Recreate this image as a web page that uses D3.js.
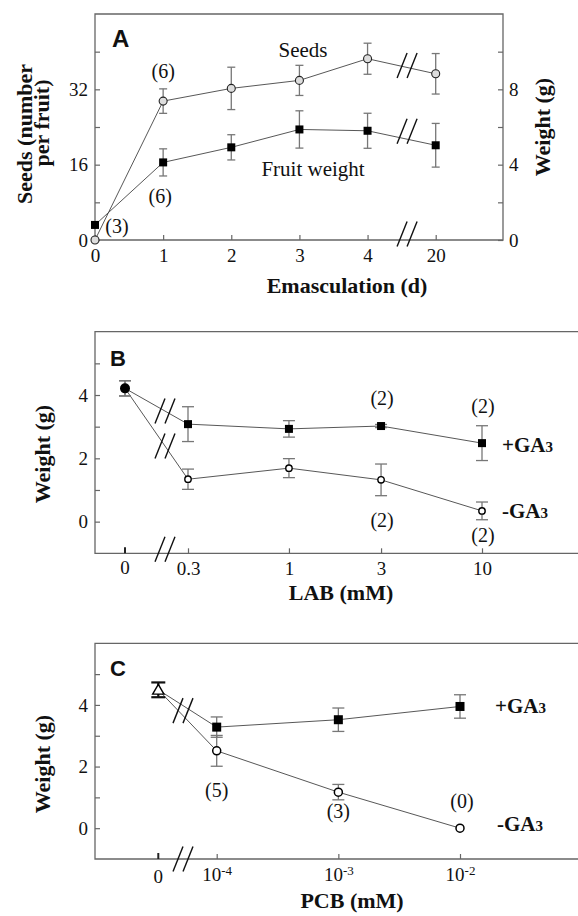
<!DOCTYPE html>
<html>
<head>
<meta charset="utf-8">
<script src="https://cdn.jsdelivr.net/npm/d3@7"></script>
<style>
  body { margin: 0; background: #fff; }
  text { font-family: "Liberation Serif", "Times New Roman", serif; fill: #111; }
  .panel { font-family: "Liberation Sans", Arial, sans-serif; font-weight: bold; }
  .lab { font-weight: bold; }
</style>
</head>
<body>
<div id="fig"></div>
<script>
// ---- data: panel A (emasculation)
var days = ["0", "1", "2", "3", "4", "20"];
var seeds = [0, 29.5, 32.2, 33.9, 38.5, 35.3];
var seedsErr = [0, 2.6, 4.5, 3.2, 3.3, 4.3];
var fruitWt = [0.8, 4.12, 4.92, 5.87, 5.8, 5.03];
var fruitErr = [0, 0.72, 0.67, 0.99, 0.93, 1.16];

// ---- data: panel B (LAB)
var labConc = [0, 0.3, 1, 3, 10];
var labPlus = [4.21, 3.08, 2.93, 3.02, 2.48];
var labPlusErr = [0.24, 0.55, 0.26, 0.05, 0.55];
var labMinus = [4.21, 1.34, 1.69, 1.32, 0.34];
var labMinusErr = [0.24, 0.32, 0.30, 0.50, 0.28];

// ---- data: panel C (PCB)
var pcbConc = [0, 1e-4, 1e-3, 1e-2];
var pcbPlus = [4.49, 3.28, 3.52, 3.95];
var pcbPlusErr = [0.24, 0.33, 0.38, 0.38];
var pcbMinus = [4.49, 2.51, 1.17, 0.0];
var pcbMinusErr = [0.24, 0.50, 0.25, 0];

var weightTicks = [0, 1, 2, 3, 4, 5];

var axisColor = "#666";
var lineColor = "#444";
var errColor = "#777";

var svg = d3.select("#fig").append("svg")
  .attr("width", 578)
  .attr("height", 916);

function breakMark(g, cx, cy) {
  [-10, 0].forEach(function(dx) {
    g.append("line")
      .attr("x1", cx + dx).attr("y1", cy + 12.5)
      .attr("x2", cx + dx + 10).attr("y2", cy - 12.5)
      .attr("stroke", "#111").attr("stroke-width", 1.4);
  });
}

function errorBars(g, xs, ys, errs, y, capW, color, width) {
  xs.forEach(function(xv, i) {
    if (!errs[i]) return;
    var lo = y(ys[i] - errs[i]), hi = y(ys[i] + errs[i]);
    g.append("line").attr("x1", xv).attr("x2", xv).attr("y1", lo).attr("y2", hi)
      .attr("stroke", color).attr("stroke-width", width);
    [lo, hi].forEach(function(yy) {
      g.append("line").attr("x1", xv - capW / 2).attr("x2", xv + capW / 2)
        .attr("y1", yy).attr("y2", yy)
        .attr("stroke", color).attr("stroke-width", width);
    });
  });
}

function gaLabel(g, x, y, sign) {
  var t = g.append("text").attr("class", "lab").attr("x", x).attr("y", y)
    .attr("font-size", "21px").text(sign + "GA");
  t.append("tspan").attr("font-size", "15px").text("3");
}

function styleAxis(ax) {
  ax.attr("font-family", null).attr("font-size", null);
  ax.select(".domain").remove();
  ax.selectAll(".tick line").attr("stroke", axisColor).attr("stroke-width", 1.2);
  ax.selectAll(".tick text").attr("font-size", "19px").attr("fill", "#111");
}

function lerp(a, b, t) { return a + (b - a) * t; }

// =================== Panel A
var gA = svg.append("g");
var A = { left: 95, right: 503, top: 14, bottom: 240 };

var xA = d3.scalePoint().domain(days).range([95, 435.7]);
var yA = d3.scaleLinear().domain([0, 48]).range([A.bottom, A.top]);
var yA2 = d3.scaleLinear().domain([0, 12]).range([A.bottom, A.top]);

gA.append("path")
  .attr("d", `M${A.left},${A.top}H${A.right}V${A.bottom}H${A.left}Z`)
  .attr("fill", "none").attr("stroke", axisColor).attr("stroke-width", 1.3);

var axA = gA.append("g").attr("transform", `translate(${A.left},0)`)
  .call(d3.axisLeft(yA).tickValues([0, 8, 16, 24, 32, 40]).tickSize(-5).tickPadding(7)
    .tickFormat(d => d % 16 === 0 ? d : ""));
styleAxis(axA);

var axA2 = gA.append("g").attr("transform", `translate(${A.right},0)`)
  .call(d3.axisRight(yA2).tickValues([0, 2, 4, 6, 8, 10]).tickSize(-5).tickPadding(6)
    .tickFormat(d => d % 4 === 0 ? d : ""));
styleAxis(axA2);

var axAx = gA.append("g").attr("transform", `translate(0,${A.bottom})`)
  .call(d3.axisBottom(xA).tickSize(-5).tickPadding(9));
styleAxis(axAx);

var xsA = days.map(d => xA(d));
var breakXA = xA("4") + 0.58 * (xA("20") - xA("4"));

// seeds line + fruit line
gA.append("path").datum(seeds)
  .attr("d", d3.line().x((d, i) => xsA[i]).y(d => yA(d)))
  .attr("fill", "none").attr("stroke", lineColor).attr("stroke-width", 0.9);
gA.append("path").datum(fruitWt)
  .attr("d", d3.line().x((d, i) => xsA[i]).y(d => yA2(d)))
  .attr("fill", "none").attr("stroke", lineColor).attr("stroke-width", 0.9);

errorBars(gA, xsA, seeds, seedsErr, yA, 8, errColor, 1.3);
errorBars(gA, xsA, fruitWt, fruitErr, yA2, 8, errColor, 1.3);

gA.selectAll(".fr").data(fruitWt).enter().append("rect")
  .attr("x", (d, i) => xsA[i] - 4).attr("y", d => yA2(d) - 4)
  .attr("width", 8).attr("height", 8).attr("fill", "#000");
gA.selectAll(".sd").data(seeds).enter().append("circle")
  .attr("cx", (d, i) => xsA[i]).attr("cy", d => yA(d)).attr("r", 4)
  .attr("fill", "#ddd").attr("stroke", "#222").attr("stroke-width", 1.1);

// break marks
var tA = (breakXA - xA("4")) / (xA("20") - xA("4"));
breakMark(gA, breakXA, lerp(yA(seeds[4]), yA(seeds[5]), tA) - 2);
breakMark(gA, breakXA, lerp(yA2(fruitWt[4]), yA2(fruitWt[5]), tA) - 8);
breakMark(gA, breakXA, A.bottom - 6);

gA.append("text").attr("class", "panel").attr("x", 112).attr("y", 47)
  .attr("font-size", "24px").text("A");
gA.append("text").attr("x", 303).attr("y", 57).attr("text-anchor", "middle")
  .attr("font-size", "21px").text("Seeds");
gA.append("text").attr("x", 313).attr("y", 176).attr("text-anchor", "middle")
  .attr("font-size", "21px").text("Fruit weight");
gA.append("text").attr("x", xA("1")).attr("y", 78).attr("text-anchor", "middle")
  .attr("font-size", "20px").text("(6)");
gA.append("text").attr("x", xA("1") - 3).attr("y", 203).attr("text-anchor", "middle")
  .attr("font-size", "20px").text("(6)");
gA.append("text").attr("x", 117).attr("y", 233).attr("text-anchor", "middle")
  .attr("font-size", "20px").text("(3)");

gA.append("text").attr("class", "lab").attr("font-size", "22px")
  .attr("text-anchor", "middle")
  .attr("transform", "translate(32,134) rotate(-90)").text("Seeds (number");
gA.append("text").attr("class", "lab").attr("font-size", "22px")
  .attr("text-anchor", "middle")
  .attr("transform", "translate(49,123) rotate(-90)").text("per fruit)");
gA.append("text").attr("class", "lab").attr("font-size", "22px")
  .attr("text-anchor", "middle")
  .attr("transform", "translate(550,127) rotate(-90)").text("Weight (g)");
gA.append("text").attr("class", "lab").attr("font-size", "22px")
  .attr("text-anchor", "middle").attr("x", 347).attr("y", 293).text("Emasculation (d)");

// =================== Panel B
var gB = svg.append("g");
var B = { left: 95, right: 578, top: 331.7, bottom: 553.3 };
var zeroB = 125;
var logB = d3.scaleLog().domain([0.3, 10]).range([188, 482]);
var xB = function(v) { return v === 0 ? zeroB : logB(v); };
var yB = d3.scaleLinear().domain([-1, 6]).range([B.bottom, B.top]);

gB.append("path")
  .attr("d", `M${B.right},${B.top}H${B.left}V${B.bottom}H${B.right}`)
  .attr("fill", "none").attr("stroke", axisColor).attr("stroke-width", 1.3);

var axB = gB.append("g").attr("transform", `translate(${B.left},0)`)
  .call(d3.axisLeft(yB).tickValues(weightTicks).tickSize(-5).tickPadding(7)
    .tickFormat(d => d % 2 === 0 ? d : ""));
styleAxis(axB);

var axBx = gB.append("g").attr("transform", `translate(0,${B.bottom})`)
  .call(d3.axisBottom(logB).tickValues([0.3, 1, 3, 10]).tickSize(-5).tickPadding(8)
    .tickFormat(d => String(d)));
styleAxis(axBx);
gB.append("line").attr("x1", zeroB).attr("x2", zeroB).attr("y1", B.bottom).attr("y2", B.bottom - 6)
  .attr("stroke", "#222").attr("stroke-width", 2);
gB.append("text").attr("x", zeroB).attr("y", B.bottom + 21).attr("text-anchor", "middle")
  .attr("font-size", "19px").text("0");

var xsB = labConc.map(xB);
[labPlus, labMinus].forEach(function(s) {
  gB.append("path").datum(s)
    .attr("d", d3.line().x((d, i) => xsB[i]).y(d => yB(d)))
    .attr("fill", "none").attr("stroke", lineColor).attr("stroke-width", 0.9);
});
errorBars(gB, xsB, labPlus, labPlusErr, yB, 12, errColor, 1.3);
errorBars(gB, xsB, labMinus, labMinusErr, yB, 12, errColor, 1.3);

gB.selectAll(".pl").data(labPlus.slice(1)).enter().append("rect")
  .attr("x", (d, i) => xsB[i + 1] - 4).attr("y", d => yB(d) - 4)
  .attr("width", 8).attr("height", 8).attr("fill", "#000");
gB.selectAll(".mi").data(labMinus.slice(1)).enter().append("circle")
  .attr("cx", (d, i) => xsB[i + 1]).attr("cy", d => yB(d)).attr("r", 3.2)
  .attr("fill", "#fff").attr("stroke", "#000").attr("stroke-width", 1.4);
gB.append("circle").attr("cx", xsB[0]).attr("cy", yB(labPlus[0])).attr("r", 5).attr("fill", "#000");

var breakXB = 165;
var tB = (breakXB - xsB[0]) / (xsB[1] - xsB[0]);
breakMark(gB, breakXB, lerp(yB(labPlus[0]), yB(labPlus[1]), tB));
breakMark(gB, breakXB, lerp(yB(labMinus[0]), yB(labMinus[1]), tB));
breakMark(gB, breakXB, B.bottom - 4);

gB.append("text").attr("class", "panel").attr("x", 110).attr("y", 366)
  .attr("font-size", "22px").text("B");
[[3, 405], [10, 413], [3, 527], [10, 542]].forEach(function(p) {
  gB.append("text").attr("x", xB(p[0]) + 1).attr("y", p[1]).attr("text-anchor", "middle")
    .attr("font-size", "20px").text("(2)");
});
gaLabel(gB, 502, 452, "+");
gaLabel(gB, 502, 518, "-");

gB.append("text").attr("class", "lab").attr("font-size", "22px")
  .attr("text-anchor", "middle")
  .attr("transform", "translate(50,454) rotate(-90)").text("Weight (g)");
gB.append("text").attr("class", "lab").attr("font-size", "22px")
  .attr("text-anchor", "middle").attr("x", 341).attr("y", 600).text("LAB (mM)");

// =================== Panel C
var gC = svg.append("g");
var C = { left: 95, right: 578, top: 643.3, bottom: 859 };
var zeroC = 158.3;
var logC = d3.scaleLog().domain([1e-4, 1e-2]).range([216.7, 460]);
var xC = function(v) { return v === 0 ? zeroC : logC(v); };
var yC = d3.scaleLinear().domain([-1, 6]).range([C.bottom, C.top]);

gC.append("path")
  .attr("d", `M${C.right},${C.top}H${C.left}V${C.bottom}H${C.right}`)
  .attr("fill", "none").attr("stroke", axisColor).attr("stroke-width", 1.3);

var axC = gC.append("g").attr("transform", `translate(${C.left},0)`)
  .call(d3.axisLeft(yC).tickValues(weightTicks).tickSize(-5).tickPadding(7)
    .tickFormat(d => d % 2 === 0 ? d : ""));
styleAxis(axC);

var axCx = gC.append("g").attr("transform", `translate(0,${C.bottom})`)
  .call(d3.axisBottom(logC).tickValues([1e-4, 1e-3, 1e-2]).tickSize(-5).tickPadding(9)
    .tickFormat(""));
styleAxis(axCx);
axCx.selectAll(".tick text").each(function(d) {
  var t = d3.select(this);
  t.text("10");
  t.append("tspan").attr("dy", "-0.5em").attr("font-size", "13px").text(Math.round(Math.log10(d)));
});
gC.append("line").attr("x1", zeroC).attr("x2", zeroC).attr("y1", C.bottom).attr("y2", C.bottom - 6)
  .attr("stroke", "#222").attr("stroke-width", 2);
gC.append("text").attr("x", zeroC).attr("y", C.bottom + 24).attr("text-anchor", "middle")
  .attr("font-size", "19px").text("0");

var xsC = pcbConc.map(xC);
[pcbPlus, pcbMinus].forEach(function(s) {
  gC.append("path").datum(s)
    .attr("d", d3.line().x((d, i) => xsC[i]).y(d => yC(d)))
    .attr("fill", "none").attr("stroke", lineColor).attr("stroke-width", 0.9);
});
errorBars(gC, xsC.slice(1), pcbPlus.slice(1), pcbPlusErr.slice(1), yC, 12, errColor, 1.3);
errorBars(gC, xsC.slice(1), pcbMinus.slice(1), pcbMinusErr.slice(1), yC, 12, errColor, 1.3);
errorBars(gC, xsC.slice(0, 1), pcbPlus.slice(0, 1), pcbPlusErr.slice(0, 1), yC, 14, "#111", 2.2);

gC.selectAll(".pl").data(pcbPlus.slice(1)).enter().append("rect")
  .attr("x", (d, i) => xsC[i + 1] - 4.5).attr("y", d => yC(d) - 4.5)
  .attr("width", 9).attr("height", 9).attr("fill", "#000");
gC.selectAll(".mi").data(pcbMinus.slice(1)).enter().append("circle")
  .attr("cx", (d, i) => xsC[i + 1]).attr("cy", d => yC(d)).attr("r", 4)
  .attr("fill", "#fff").attr("stroke", "#000").attr("stroke-width", 1.5);
gC.append("path").attr("d", d3.symbol(d3.symbolTriangle, 55)())
  .attr("transform", `translate(${xsC[0]},${yC(pcbPlus[0]) + 1})`)
  .attr("fill", "#fff").attr("stroke", "#000").attr("stroke-width", 1.4);

var breakXC = 183;
var tC = (breakXC - xsC[0]) / (xsC[1] - xsC[0]);
breakMark(gC, breakXC, (lerp(yC(pcbPlus[0]), yC(pcbPlus[1]), tC) + lerp(yC(pcbMinus[0]), yC(pcbMinus[1]), tC)) / 2);
breakMark(gC, breakXC, C.bottom);

gC.append("text").attr("class", "panel").attr("x", 110).attr("y", 676)
  .attr("font-size", "22px").text("C");
gC.append("text").attr("x", xC(1e-4)).attr("y", 797).attr("text-anchor", "middle")
  .attr("font-size", "20px").text("(5)");
gC.append("text").attr("x", xC(1e-3)).attr("y", 818).attr("text-anchor", "middle")
  .attr("font-size", "20px").text("(3)");
gC.append("text").attr("x", xC(1e-2) + 2).attr("y", 808).attr("text-anchor", "middle")
  .attr("font-size", "20px").text("(0)");
gaLabel(gC, 495, 713, "+");
gaLabel(gC, 497, 831, "-");

gC.append("text").attr("class", "lab").attr("font-size", "22px")
  .attr("text-anchor", "middle")
  .attr("transform", "translate(50,764) rotate(-90)").text("Weight (g)");
gC.append("text").attr("class", "lab").attr("font-size", "22px")
  .attr("text-anchor", "middle").attr("x", 352).attr("y", 908).text("PCB (mM)");
</script>
</body>
</html>
